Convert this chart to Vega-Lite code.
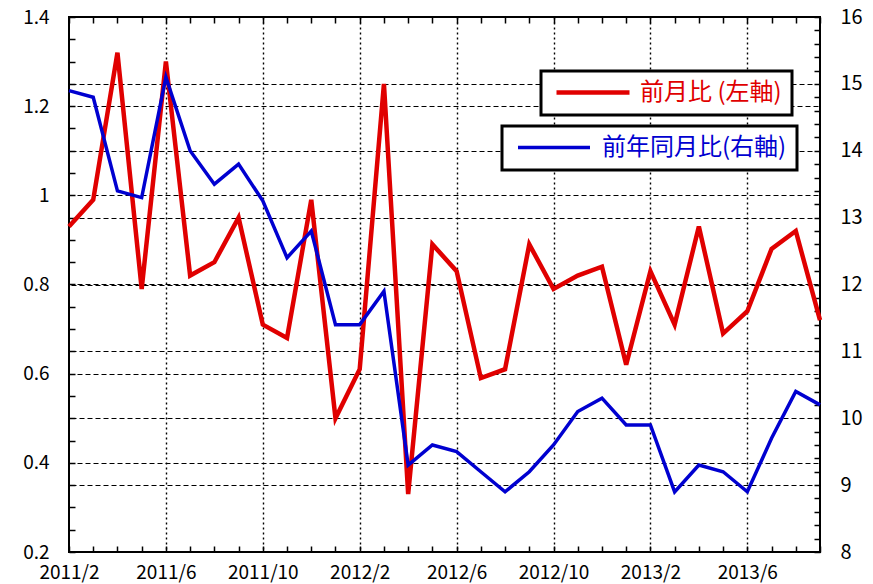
{
  "$schema": "https://vega.github.io/schema/vega-lite/v6.json",
  "width": 751,
  "height": 535,
  "autosize": "none",
  "padding": {"left": 69, "top": 17, "right": 53, "bottom": 32},
  "background": "white",
  "config": {
    "view": {"stroke": "black", "strokeWidth": 2},
    "font": "Noto Sans CJK JP",
    "legend": {"strokeWidth": 3}
  },
  "data": {
    "values": [
      {"month": "2011/2", "mom": 0.93, "yoy": 14.9},
      {"month": "2011/3", "mom": 0.99, "yoy": 14.8},
      {"month": "2011/4", "mom": 1.32, "yoy": 13.4},
      {"month": "2011/5", "mom": 0.79, "yoy": 13.3},
      {"month": "2011/6", "mom": 1.30, "yoy": 15.1},
      {"month": "2011/7", "mom": 0.82, "yoy": 14.0},
      {"month": "2011/8", "mom": 0.85, "yoy": 13.5},
      {"month": "2011/9", "mom": 0.95, "yoy": 13.8},
      {"month": "2011/10", "mom": 0.71, "yoy": 13.25},
      {"month": "2011/11", "mom": 0.68, "yoy": 12.4},
      {"month": "2011/12", "mom": 0.99, "yoy": 12.8},
      {"month": "2012/1", "mom": 0.50, "yoy": 11.4},
      {"month": "2012/2", "mom": 0.61, "yoy": 11.4},
      {"month": "2012/3", "mom": 1.25, "yoy": 11.9},
      {"month": "2012/4", "mom": 0.33, "yoy": 9.3},
      {"month": "2012/5", "mom": 0.89, "yoy": 9.6},
      {"month": "2012/6", "mom": 0.83, "yoy": 9.5},
      {"month": "2012/7", "mom": 0.59, "yoy": 9.2},
      {"month": "2012/8", "mom": 0.61, "yoy": 8.9},
      {"month": "2012/9", "mom": 0.89, "yoy": 9.2},
      {"month": "2012/10", "mom": 0.79, "yoy": 9.6},
      {"month": "2012/11", "mom": 0.82, "yoy": 10.1},
      {"month": "2012/12", "mom": 0.84, "yoy": 10.3},
      {"month": "2013/1", "mom": 0.62, "yoy": 9.9},
      {"month": "2013/2", "mom": 0.83, "yoy": 9.9},
      {"month": "2013/3", "mom": 0.71, "yoy": 8.9},
      {"month": "2013/4", "mom": 0.93, "yoy": 9.3},
      {"month": "2013/5", "mom": 0.69, "yoy": 9.2},
      {"month": "2013/6", "mom": 0.74, "yoy": 8.9},
      {"month": "2013/7", "mom": 0.88, "yoy": 9.7},
      {"month": "2013/8", "mom": 0.92, "yoy": 10.4},
      {"month": "2013/9", "mom": 0.72, "yoy": 10.2}
    ]
  },
  "layer": [
    {
      "mark": {"type": "line", "strokeWidth": 4.5},
      "encoding": {
        "x": {
          "field": "month", "type": "ordinal", "sort": null,
          "scale": {"type": "point", "padding": 0},
          "axis": {
            "orient": "bottom", "title": null, "domain": false,
            "labelAngle": 0, "labelOverlap": false, "labelFontSize": 19, "labelColor": "black",
            "labelFont": "Noto Sans CJK JP",
            "labelExpr": "indexof(['2011/2','2011/6','2011/10','2012/2','2012/6','2012/10','2013/2','2013/6'], datum.label) >= 0 ? datum.label : ''",
            "labelPadding": 17,
            "tickSize": -6, "tickColor": "black", "tickWidth": 1.5,
            "grid": true, "gridColor": "black", "gridWidth": 1.4, "gridDash": [2, 3],
            "gridOpacity": {"condition": {"test": "indexof(['2011/6','2011/10','2012/2','2012/6','2012/10','2013/2','2013/6'], datum.value) >= 0", "value": 1}, "value": 0}
          }
        },
        "y": {
          "field": "mom", "type": "quantitative",
          "scale": {"domain": [0.2, 1.4], "nice": false, "zero": false},
          "axis": {
            "orient": "left", "title": null, "domain": false,
            "values": [0.2, 0.25, 0.3, 0.35, 0.4, 0.45, 0.5, 0.55, 0.6, 0.65, 0.7, 0.75, 0.8, 0.85, 0.9, 0.95, 1.0, 1.05, 1.1, 1.15, 1.2, 1.25, 1.3, 1.35, 1.4],
            "labelExpr": "round(datum.value*100) % 20 == 0 ? toString(round(datum.value*10)/10) : ''",
            "labelOverlap": false, "labelFontSize": 19, "labelColor": "black", "labelFont": "Noto Sans CJK JP",
            "labelPadding": 26,
            "tickSize": -6, "tickColor": "black", "tickWidth": 1.5,
            "grid": true, "gridColor": "black", "gridWidth": 1.2, "gridDash": [5, 3],
            "gridOpacity": {"condition": {"test": "round(datum.value*100) % 20 == 0 && datum.value > 0.3 && datum.value < 1.3", "value": 1}, "value": 0}
          }
        },
        "color": {
          "datum": "前月比 (左軸)", "type": "nominal",
          "scale": {"range": ["#e00000"]},
          "legend": {
            "orient": "none", "legendX": 472, "legendY": 54, "title": null,
            "symbolType": "stroke", "symbolSize": 5329, "symbolStrokeWidth": 4.5, "symbolOffset": 3,
            "labelOffset": 8, "labelFontSize": 24, "labelColor": "#e00000", "labelFont": "Noto Sans CJK JP",
            "labelLimit": 400, "padding": 10, "clipHeight": 23,
            "strokeColor": "black", "fillColor": "white"
          }
        }
      }
    },
    {
      "mark": {"type": "line", "strokeWidth": 3.5},
      "encoding": {
        "x": {
          "field": "month", "type": "ordinal", "sort": null,
          "scale": {"type": "point", "padding": 0},
          "axis": {
            "orient": "top", "title": null, "domain": false, "labels": false,
            "tickSize": -6, "tickColor": "black", "tickWidth": 1.5, "grid": false
          }
        },
        "y": {
          "field": "yoy", "type": "quantitative",
          "scale": {"domain": [8, 16], "nice": false, "zero": false},
          "axis": {
            "orient": "right", "title": null, "domain": false,
            "values": [8, 8.2, 8.4, 8.6, 8.8, 9, 9.2, 9.4, 9.6, 9.8, 10, 10.2, 10.4, 10.6, 10.8, 11, 11.2, 11.4, 11.6, 11.8, 12, 12.2, 12.4, 12.6, 12.8, 13, 13.2, 13.4, 13.6, 13.8, 14, 14.2, 14.4, 14.6, 14.8, 15, 15.2, 15.4, 15.6, 15.8, 16],
            "labelExpr": "datum.value % 1 == 0 ? toString(datum.value) : ''",
            "labelOverlap": false, "labelFontSize": 20, "labelColor": "black", "labelFont": "Noto Sans CJK JP",
            "labelPadding": 26,
            "tickSize": -6, "tickColor": "black", "tickWidth": 1.5,
            "grid": true, "gridColor": "black", "gridWidth": 1.2, "gridDash": [5, 3],
            "gridOpacity": {"condition": {"test": "datum.value % 1 == 0 && datum.value > 8.5 && datum.value < 15.5", "value": 1}, "value": 0}
          }
        },
        "color": {
          "datum": "前年同月比(右軸)", "type": "nominal",
          "scale": {"range": ["#0000d0"]},
          "legend": {
            "orient": "none", "legendX": 433, "legendY": 109, "title": null,
            "symbolType": "stroke", "symbolSize": 5184, "symbolStrokeWidth": 3.5, "symbolOffset": 4,
            "labelOffset": 10, "labelFontSize": 24, "labelColor": "#0000d0", "labelFont": "Noto Sans CJK JP",
            "labelLimit": 400, "padding": 10, "clipHeight": 23,
            "strokeColor": "black", "fillColor": "white"
          }
        }
      }
    }
  ],
  "resolve": {
    "scale": {"y": "independent", "color": "independent"},
    "axis": {"x": "independent", "y": "independent"}
  }
}
